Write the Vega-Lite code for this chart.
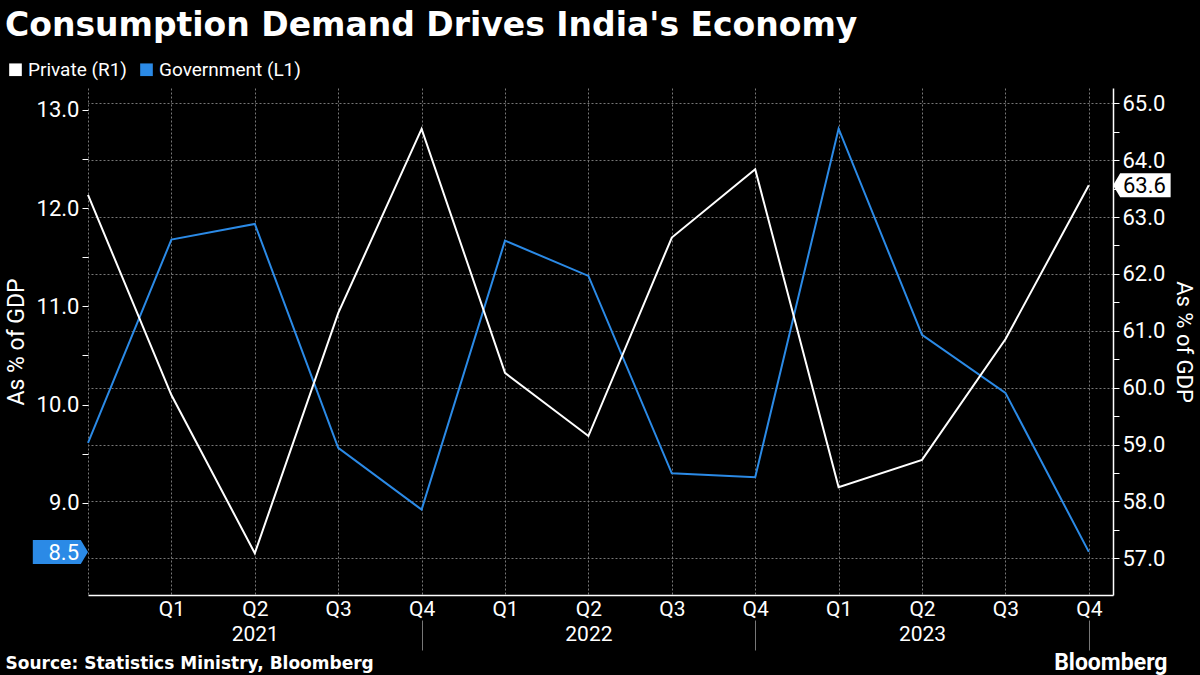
{
  "$schema": "https://vega.github.io/schema/vega-lite/v6.json",
  "width": 1025,
  "height": 507,
  "autosize": "none",
  "padding": {"left": 88, "top": 88, "right": 87, "bottom": 80},
  "background": "black",
  "config": {"view": {"stroke": null}, "font": "Roboto"},
  "title": {
    "text": "Consumption Demand Drives India's Economy",
    "anchor": "start",
    "frame": "group",
    "dx": -83,
    "dy": -13,
    "fontSize": 33,
    "fontWeight": "bold",
    "font": "DejaVu Sans",
    "color": "white"
  },
  "data": {
    "values": [
      {"q": 0, "gov": 9.61, "priv": 63.39},
      {"q": 1, "gov": 11.68, "priv": 59.87},
      {"q": 2, "gov": 11.84, "priv": 57.09},
      {"q": 3, "gov": 9.56, "priv": 61.31},
      {"q": 4, "gov": 8.93, "priv": 64.55},
      {"q": 5, "gov": 11.67, "priv": 60.26},
      {"q": 6, "gov": 11.31, "priv": 59.15},
      {"q": 7, "gov": 9.30, "priv": 62.64},
      {"q": 8, "gov": 9.26, "priv": 63.84},
      {"q": 9, "gov": 12.81, "priv": 58.25},
      {"q": 10, "gov": 10.71, "priv": 58.73},
      {"q": 11, "gov": 10.12, "priv": 60.85},
      {"q": 12, "gov": 8.5, "priv": 63.56}
    ]
  },
  "layer": [
    {
      "layer": [
        {
          "mark": {"type": "line", "strokeWidth": 2},
          "encoding": {
            "x": {
              "field": "q",
              "type": "quantitative",
              "scale": {"domain": [0, 12.29], "nice": false, "zero": false},
              "axis": {
                "orient": "bottom",
                "values": [0, 1, 2, 3, 4, 5, 6, 7, 8, 9, 10, 11, 12],
                "labelExpr": "datum.value == 0 ? '' : 'Q' + (((datum.value + 3) % 4) + 1)",
                "labelColor": "white",
                "labelFont": "Roboto",
                "labelFontSize": 21,
                "labelPadding": 3,
                "ticks": false,
                "domain": true,
                "domainColor": "white",
                "domainWidth": 1.5,
                "grid": true,
                "gridColor": "#777777",
                "gridDash": [2, 2],
                "gridWidth": 1,
                "title": "Bloomberg",
                "titleColor": "white",
                "titleFont": "Roboto",
                "titleFontSize": 23,
                "titleFontWeight": "bold",
                "titleAnchor": "end",
                "titleAlign": "right",
                "titleBaseline": "alphabetic",
                "titleX": 1079,
                "titleY": 74
              }
            },
            "y": {
              "field": "gov",
              "type": "quantitative",
              "scale": {"domain": [8.061, 13.224], "nice": false, "zero": false},
              "axis": {
                "orient": "left",
                "values": [9, 9.5, 10, 10.5, 11, 11.5, 12, 12.5, 13],
                "labelExpr": "datum.value % 1 == 0 ? format(datum.value, '.1f') : ''",
                "labelColor": "white",
                "labelFont": "Roboto",
                "labelFontSize": 22,
                "labelPadding": 3,
                "domain": false,
                "grid": false,
                "ticks": true,
                "tickColor": "white",
                "tickSize": 6,
                "title": "As % of GDP",
                "titleColor": "white",
                "titleFont": "Roboto",
                "titleFontSize": 23,
                "titleFontWeight": "normal",
                "titlePadding": 8
              }
            },
            "color": {
              "datum": "Government (L1)",
              "type": "nominal",
              "scale": {"domain": ["Private (R1)", "Government (L1)"], "range": ["#ffffff", "#2b8ae6"]},
              "legend": {
                "orient": "none",
                "legendX": -82,
                "legendY": -28,
                "direction": "horizontal",
                "title": null,
                "symbolType": "square",
                "symbolSize": 160,
                "symbolStrokeWidth": 0,
                "labelColor": "white",
                "labelFont": "Roboto",
                "labelFontSize": 19,
                "labelOffset": 3,
                "columnPadding": 10,
                "encode": {"symbols": {"update": {"fill": {"scale": "color", "field": "value"}, "strokeWidth": {"value": 0}}}}
              }
            }
          }
        },
        {
          "transform": [{"filter": "datum.q == 12"}],
          "mark": {"type": "point", "shape": "M0,0L-0.3,-0.5L-2.3,-0.5L-2.3,0.5L-0.3,0.5Z", "size": 2304, "filled": true, "fill": "#2b8ae6", "strokeWidth": 0, "opacity": 1},
          "encoding": {
            "x": {"datum": 0, "type": "quantitative", "axis": null},
            "y": {"field": "gov", "type": "quantitative", "axis": null}
          }
        },
        {
          "transform": [{"filter": "datum.q == 12"}],
          "mark": {"type": "text", "align": "right", "baseline": "middle", "dx": -9, "dy": 1, "fontSize": 22, "font": "Roboto", "color": "white"},
          "encoding": {
            "x": {"datum": 0, "type": "quantitative", "axis": null},
            "y": {"field": "gov", "type": "quantitative", "axis": null},
            "text": {"field": "gov", "type": "quantitative", "format": ".1f"}
          }
        }
      ],
      "resolve": {"axis": {"x": "independent", "y": "independent"}}
    },
    {
      "layer": [
        {
          "mark": {"type": "line", "strokeWidth": 2},
          "encoding": {
            "x": {
              "field": "q",
              "type": "quantitative",
              "scale": {"domain": [0, 12.29], "nice": false, "zero": false},
              "axis": {
                "orient": "bottom",
                "values": [2, 6, 10],
                "labelExpr": "'' + (2021 + (datum.value - 2) / 4)",
                "labelColor": "white",
                "labelFont": "Roboto",
                "labelFontSize": 21,
                "labelPadding": 28,
                "ticks": false,
                "domain": false,
                "grid": false,
                "title": null
              }
            },
            "y": {
              "field": "priv",
              "type": "quantitative",
              "scale": {"domain": [56.355, 65.269], "nice": false, "zero": false},
              "axis": {
                "orient": "right",
                "values": [57, 57.5, 58, 58.5, 59, 59.5, 60, 60.5, 61, 61.5, 62, 62.5, 63, 63.5, 64, 64.5, 65],
                "labelExpr": "datum.value % 1 == 0 ? format(datum.value, '.1f') : ''",
                "labelColor": "white",
                "labelFont": "Roboto",
                "labelFontSize": 22,
                "labelPadding": 3,
                "domain": true,
                "domainColor": "white",
                "domainWidth": 1.5,
                "grid": false,
                "ticks": true,
                "tickColor": "white",
                "tickSize": 6,
                "title": "As % of GDP",
                "titleColor": "white",
                "titleFont": "Roboto",
                "titleFontSize": 22,
                "titleFontWeight": "normal",
                "titlePadding": 7
              }
            },
            "color": {"datum": "Private (R1)", "type": "nominal"}
          }
        },
        {
          "transform": [{"filter": "datum.q == 12"}],
          "mark": {"type": "point", "shape": "M0,0L0.3,-0.5L2.4,-0.5L2.4,0.5L0.3,0.5Z", "size": 2304, "filled": true, "fill": "#ffffff", "strokeWidth": 0, "opacity": 1},
          "encoding": {
            "x": {
              "datum": 12.29,
              "type": "quantitative",
              "axis": {
                "orient": "bottom",
                "values": [4, 8, 12],
                "labels": false,
                "domain": false,
                "grid": false,
                "ticks": true,
                "tickColor": "#777777",
                "tickSize": 30,
                "offset": 25,
                "title": "Source: Statistics Ministry, Bloomberg",
                "titleColor": "white",
                "titleFont": "DejaVu Sans",
                "titleFontSize": 17,
                "titleFontWeight": "bold",
                "titleAnchor": "start",
                "titleAlign": "left",
                "titleBaseline": "alphabetic",
                "titleX": -83,
                "titleY": 48
              }
            },
            "y": {
              "field": "priv",
              "type": "quantitative",
              "axis": {
                "orient": "right",
                "values": [57, 58, 59, 60, 61, 62, 63, 64, 65],
                "labels": false,
                "ticks": false,
                "domain": false,
                "grid": true,
                "gridColor": "#777777",
                "gridDash": [2, 2],
                "gridWidth": 1,
                "title": null
              }
            }
          }
        },
        {
          "transform": [{"filter": "datum.q == 12"}],
          "mark": {"type": "text", "align": "left", "baseline": "middle", "dx": 10, "dy": 1, "fontSize": 22, "font": "Roboto", "color": "black"},
          "encoding": {
            "x": {"datum": 12.29, "type": "quantitative", "axis": null},
            "y": {"field": "priv", "type": "quantitative", "axis": null},
            "text": {"field": "priv", "type": "quantitative", "format": ".1f"}
          }
        }
      ],
      "resolve": {"axis": {"x": "independent", "y": "independent"}}
    }
  ],
  "resolve": {"scale": {"y": "independent"}, "axis": {"x": "independent", "y": "independent"}}
}
